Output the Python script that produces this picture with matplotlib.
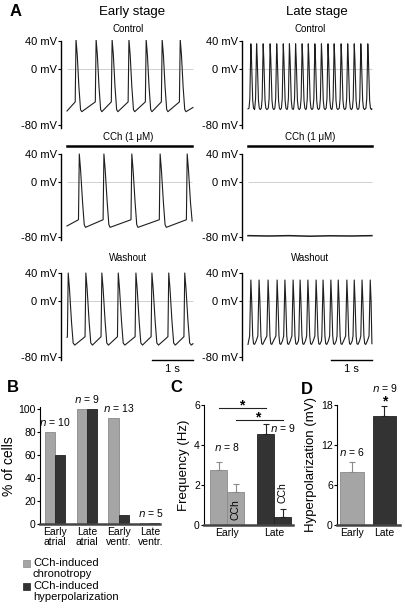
import matplotlib
matplotlib.use('Agg')
import matplotlib.pyplot as plt
from matplotlib.patches import Rectangle

plt.rcParams['font.family'] = ['Liberation Sans', 'DejaVu Sans']

# ---- panel A: spike peak times (s) and waveform knots (s from peak, mV) ----
early_ctrl_peaks = [0.22, 0.71, 1.10, 1.51, 1.93, 2.32, 2.76]
early_ctrl_dt = [-0.02, 0.0, 0.03, 0.07, 0.11, 0.14]
early_ctrl_mv = [-47, 42, 20, -25, -58, -61]

early_cch_peaks = [0.30, 0.90, 1.58, 2.27, 2.93]
early_cch_dt = [-0.02, 0.0, 0.03, 0.08, 0.12, 0.15]
early_cch_mv = [-55, 40, 18, -30, -62, -66]

early_wash_peaks = [0.03, 0.46, 0.85, 1.25, 1.68, 2.07, 2.48, 2.87]
early_wash_dt = [-0.02, 0.0, 0.03, 0.08, 0.12, 0.16]
early_wash_mv = [-51, 40, 18, -30, -60, -63]

late_ctrl_peaks = [0.07, 0.21, 0.37, 0.54, 0.70, 0.86, 1.01, 1.16, 1.32, 1.47,
                   1.63, 1.79, 1.95, 2.10, 2.27, 2.43, 2.59, 2.75, 2.92]
late_ctrl_dt = [-0.045, -0.025, 0.0, 0.015, 0.045, 0.065, 0.09]
late_ctrl_mv = [-56, -42, 36, 15, -45, -56, -58]

late_wash_peaks = [0.07, 0.27, 0.49, 0.71, 0.90, 1.10, 1.27, 1.46, 1.66, 1.83,
                   2.02, 2.20, 2.41, 2.59, 2.78, 2.98]
late_wash_dt = [-0.03, 0.0, 0.02, 0.045, 0.065, 0.09, 0.13]
late_wash_mv = [-50, 30, 0, -50, -61, -62, -57]

late_cch_t = [0.0, 0.5, 1.0, 1.5, 2.0, 2.5, 3.02]
late_cch_mv = [-78, -78.5, -78, -78.8, -78.2, -78.5, -78]

mv_ticks = [40, 0, -80]
mv_labels = ['40 mV', '0 mV', '-80 mV']

# ---- panel B ----
b_groups = ['Early\natrial', 'Late\natrial', 'Early\nventr.', 'Late\nventr.']
b_chrono = [80, 100, 92, 0.8]
b_hyper = [60, 100, 7.7, 0.8]
b_n = ['10', '9', '13', '5']
legend_labels = ['CCh-induced\nchronotropy', 'CCh-induced\nhyperpolarization']

# ---- panel C ----
c_groups = ['Early', 'Late']
c_ctrl = [2.75, 4.55]
c_ctrl_err = [0.4, 0.5]
c_cch = [1.65, 0.4]
c_cch_err = [0.4, 0.4]

# ---- panel D ----
d_groups = ['Early', 'Late']
d_vals = [7.95, 16.35]
d_err = [1.5, 1.5]
d_n = ['6', '9']
d_n_y = [10.95, 20.5]

GRAY = '#a5a5a5'
GRAY_EDGE = '#8a8a8a'
DARK = '#333333'
DARK_EDGE = '#222222'

W, H = 406, 614
fig = plt.figure(figsize=(W / 100, H / 100), dpi=100)


def px_axes(l, t, r, b):
  return fig.add_axes([l / W, 1 - b / H, (r - l) / W, (b - t) / H])


def ftext(x, y, s, **kw):
  kw.setdefault('ha', 'center')
  kw.setdefault('va', 'center')
  fig.text(x / W, 1 - y / H, s, **kw)


def build_trace(peaks, dt, mv, t0, v0, t1, v1):
  t, v = [t0], [v0]
  for p in peaks:
    for d, m in zip(dt, mv):
      if t[-1] < p + d < t1:
        t.append(p + d)
        v.append(m)
  t.append(t1)
  v.append(v1)
  return t, v


def trace_axes(l, t, r, b):
  ax = px_axes(l, t, r, b)
  ax.set_xlim(-0.146, 3.12)
  ax.set_ylim(-85, 42)
  for s in ['top', 'right', 'bottom']:
    ax.spines[s].set_visible(False)
  ax.spines['left'].set_bounds(-84, 40)
  ax.spines['left'].set_linewidth(1.0)
  ax.set_xticks([])
  ax.set_yticks(mv_ticks)
  ax.set_yticklabels(mv_labels, fontsize=8)
  ax.tick_params(axis='y', length=2, width=0.8, pad=1)
  ax.patch.set_visible(False)
  return ax


rows = [(39.6, 128.5), (152.6, 240.5), (271.6, 360.5)]
cols = [(61, 195), (242, 376)]

traces = [
  [build_trace(early_ctrl_peaks, early_ctrl_dt, early_ctrl_mv, 0.0, -60, 3.07, -55),
   build_trace(late_ctrl_peaks, late_ctrl_dt, late_ctrl_mv, 0.0, -57, 3.02, -57)],
  [build_trace(early_cch_peaks, early_cch_dt, early_cch_mv, 0.0, -64, 3.05, -57),
   (late_cch_t, late_cch_mv)],
  [build_trace(early_wash_peaks, early_wash_dt, early_wash_mv, 0.0, -52, 3.07, -61),
   build_trace(late_wash_peaks, late_wash_dt, late_wash_mv, 0.0, -62, 3.02, -61)],
]

for i, (top, bot) in enumerate(rows):
  for j, (left, right) in enumerate(cols):
    ax = trace_axes(left, top, right, bot)
    t, v = traces[i][j]
    ax.hlines(0, t[0], t[-1], color='#c8c8c8', lw=0.6)
    ax.plot(t, v, color='#1e1e1e', lw=0.8 if i != 1 or j == 0 else 1.1)
    if i == 1:
      ax.plot([t[0], t[-1]], [52, 52], color='black', lw=1.8, clip_on=False)
    if i == 2:
      ax.plot([t[-1] - 1, t[-1]], [-84, -84], color='black', lw=1.0, clip_on=False)
      ax.text(t[-1] - 0.5, -97, '1 s', fontsize=8, ha='center', va='center')

ftext(16, 12, 'A', fontsize=12, fontweight='bold')
ftext(132, 12, 'Early stage', fontsize=9.5)
ftext(317, 12, 'Late stage', fontsize=9.5)
for x in [128, 310]:
  ftext(x, 29, 'Control', fontsize=7)
  ftext(x, 137, 'CCh (1 \u03bcM)', fontsize=7)
  ftext(x, 258, 'Washout', fontsize=7)

# ---- panel B ----
axb = px_axes(40, 407.3, 160, 524)
xb = range(len(b_groups))
w = 0.32
axb.bar([x - w / 2 for x in xb], b_chrono, w, color=GRAY, edgecolor=GRAY_EDGE, lw=0.6)
axb.bar([x + w / 2 for x in xb], b_hyper, w, color=DARK, edgecolor=DARK_EDGE, lw=0.6)
axb.set_xlim(-0.47, 3.3)
axb.set_ylim(0, 101.5)
axb.set_yticks([0, 20, 40, 60, 80, 100])
axb.set_xticks(list(xb))
axb.set_xticklabels(b_groups, fontsize=7.5, linespacing=1.05)
axb.tick_params(axis='y', labelsize=7.5, length=2, pad=1)
axb.tick_params(axis='x', length=0, pad=2)
axb.set_ylabel('% of cells', fontsize=10, labelpad=2)
for x, n, a, b in zip(xb, b_n, b_chrono, b_hyper):
  axb.text(x, max(a, b) + 9, '$n$ = ' + n, fontsize=7.5, ha='center', va='center')

for i, (col, edge, lab) in enumerate(zip([GRAY, DARK], [GRAY_EDGE, DARK_EDGE], legend_labels)):
  y = 560 + 23 * i
  fig.add_artist(Rectangle((23 / W, 1 - (y + 7) / H), 7 / W, 7 / H,
                           facecolor=col, edgecolor=edge, lw=0.5))
  ftext(33, y - 2, lab, fontsize=8, ha='left', va='top', linespacing=1.1)

# ---- panel C ----
axc = px_axes(204, 405, 293, 525)
w = 0.36
cols_c = [GRAY, DARK]
edges_c = [GRAY_EDGE, DARK_EDGE]
for x in range(len(c_groups)):
  axc.bar(x - w / 2, c_ctrl[x], w, color=cols_c[x], edgecolor=edges_c[x], lw=0.6)
  axc.bar(x + w / 2, c_cch[x], w, color=cols_c[x], edgecolor=edges_c[x], lw=0.6)
  axc.errorbar(x - w / 2, c_ctrl[x], yerr=[[0], [c_ctrl_err[x]]], fmt='none',
               ecolor=edges_c[x], elinewidth=0.8, capsize=2, capthick=0.8)
  axc.errorbar(x + w / 2, c_cch[x], yerr=[[0], [c_cch_err[x]]], fmt='none',
               ecolor=edges_c[x], elinewidth=0.8, capsize=2, capthick=0.8)
axc.set_xlim(-0.49, 1.40)
axc.set_ylim(0, 6)
axc.set_yticks([0, 2, 4, 6])
axc.set_xticks(range(len(c_groups)))
axc.set_xticklabels(c_groups, fontsize=7.5)
axc.tick_params(axis='y', labelsize=7.5, length=2, pad=1)
axc.tick_params(axis='x', length=0, pad=2)
axc.set_ylabel('Frequency (Hz)', fontsize=9.5, labelpad=3)
axc.plot([-w / 2, 1 - w / 2], [5.85, 5.85], color='#222222', lw=0.8, clip_on=False)
axc.plot([w / 2, 1 + w / 2], [5.25, 5.25], color='#222222', lw=0.8, clip_on=False)
axc.text(0.32, 6.0, '*', fontsize=10, ha='center', va='center', fontweight='bold')
axc.text(0.66, 5.4, '*', fontsize=10, ha='center', va='center', fontweight='bold')
axc.text(0, 3.9, '$n$ = 8', fontsize=7.5, ha='center', va='center')
axc.text(1.19, 4.85, '$n$ = 9', fontsize=7.5, ha='center', va='center')
axc.text(w / 2, 0.75, 'CCh', fontsize=7.5, rotation=90, ha='center', va='center')
axc.text(1 + w / 2, 1.6, 'CCh', fontsize=7.5, rotation=90, ha='center', va='center')

# ---- panel D ----
axd = px_axes(337, 405, 400, 525)
w = 0.72
for x in range(len(d_groups)):
  axd.bar(x, d_vals[x], w, color=cols_c[x], edgecolor=edges_c[x], lw=0.6)
  axd.errorbar(x, d_vals[x], yerr=[[0], [d_err[x]]], fmt='none',
               ecolor=edges_c[x], elinewidth=0.8, capsize=2, capthick=0.8)
  axd.text(x, d_n_y[x], '$n$ = ' + d_n[x],
           fontsize=7.5, ha='center', va='center', clip_on=False)
axd.text(1, 18.6, '*', fontsize=10, ha='center', va='center', fontweight='bold')
axd.set_xlim(-0.46, 1.48)
axd.set_ylim(0, 18)
axd.set_yticks([0, 6, 12, 18])
axd.set_xticks(range(len(d_groups)))
axd.set_xticklabels(d_groups, fontsize=7.5)
axd.tick_params(axis='y', labelsize=7.5, length=2, pad=1)
axd.tick_params(axis='x', length=0, pad=2)
axd.set_ylabel('Hyperpolarization (mV)', fontsize=9.5, labelpad=3)

for ax in [axb, axc, axd]:
  ax.spines['top'].set_visible(False)
  ax.spines['right'].set_visible(False)
  ax.spines['left'].set_linewidth(0.8)
  ax.spines['bottom'].set_linewidth(1.8)
  ax.spines['bottom'].set_color('#444444')
  ax.patch.set_visible(False)

ftext(13, 388, 'B', fontsize=12, fontweight='bold')
ftext(176, 388, 'C', fontsize=12, fontweight='bold')
ftext(307, 389, 'D', fontsize=12, fontweight='bold')

fig.savefig('out.png', dpi=100)
